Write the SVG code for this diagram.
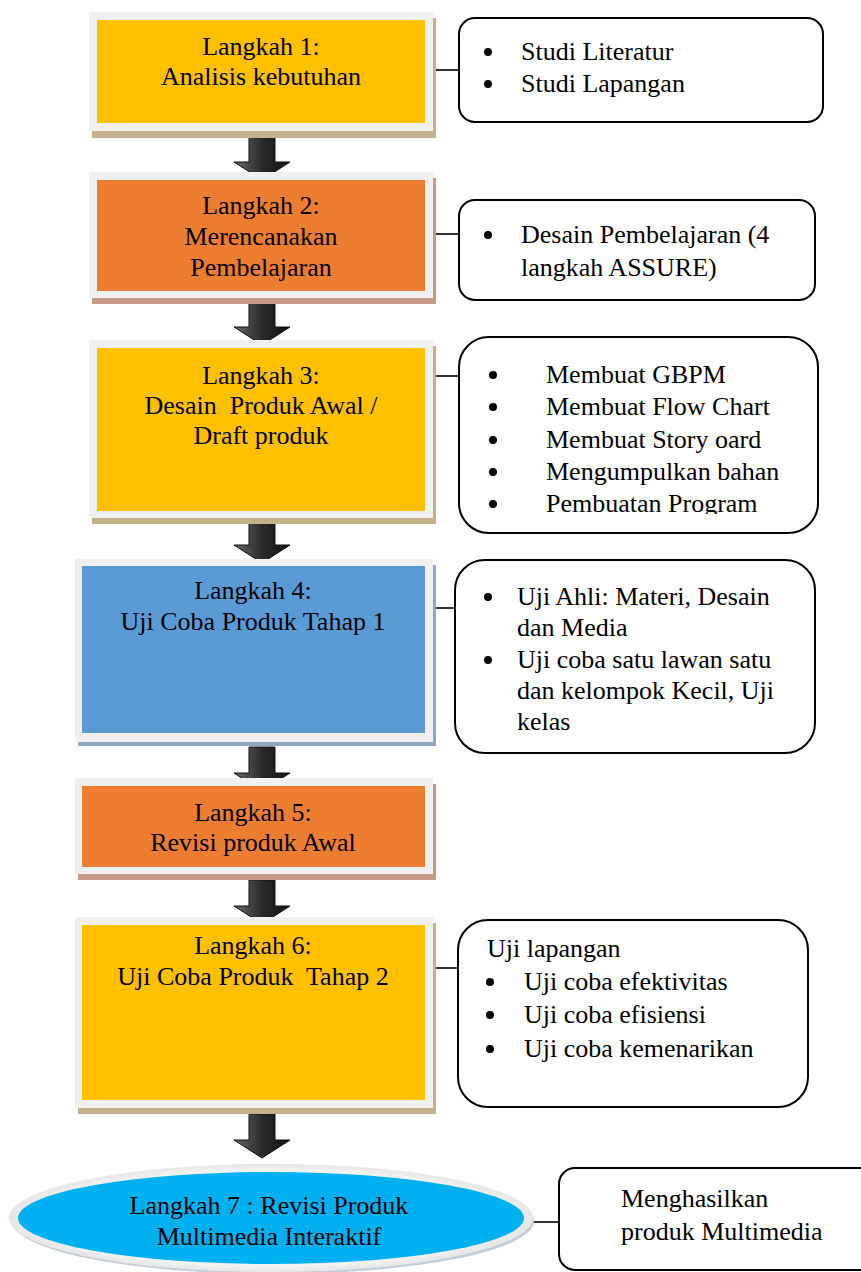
<svg xmlns="http://www.w3.org/2000/svg" width="861" height="1272" viewBox="0 0 861 1272" font-family="'Liberation Serif', Tinos, 'Times New Roman', 'DejaVu Serif', serif">
<style>
text{font-family:'Liberation Serif',Tinos,'Times New Roman','DejaVu Serif',serif;font-size:26px;fill:#000}
.c{text-anchor:middle}
.dot{fill:#000}
.frame{fill:#F0F0F0}
.note{fill:#fff;stroke:#000;stroke-width:2}
.link{stroke:#000;stroke-width:1.6;fill:none}
.gold{fill:#FFC000}
.orange{fill:#ED7D31}
.blue{fill:#5B9BD5}
.sh-tan{fill:#C4B08A}
.sh-brown{fill:#C49C86}
.sh-blue{fill:#8EA8C0}
.arrow{fill:url(#ag);stroke:#111;stroke-width:1}
</style>
<defs>
<linearGradient id="ag" x1="0" y1="0" x2="1" y2="0">
<stop offset="0" stop-color="#6a6a6a"/>
<stop offset="0.5" stop-color="#2a2a2a"/>
<stop offset="1" stop-color="#111"/>
</linearGradient>
<radialGradient id="eg" cx="0.5" cy="0.5" r="0.5">
<stop offset="0.9" stop-color="#F2F2F2"/>
<stop offset="1" stop-color="#E6E6E6"/>
</radialGradient>
<clipPath id="clip3"><rect x="455" y="330" width="370" height="184"/></clipPath>
</defs>

<g id="connectors">
<line class="link" x1="433" y1="70" x2="459" y2="70"/>
<line class="link" x1="433" y1="234" x2="459" y2="234"/>
<line class="link" x1="433" y1="376" x2="459" y2="376"/>
<line class="link" x1="429" y1="608" x2="455" y2="608"/>
<line class="link" x1="433" y1="968" x2="458" y2="968"/>
<line class="link" x1="530" y1="1222" x2="559" y2="1222"/>
<path class="arrow" d="M249,136 H275 V162 H290 L262,180 L234,162 H249 Z"/>
<path class="arrow" d="M249,301 H275 V327 H290 L262,345 L234,327 H249 Z"/>
<path class="arrow" d="M249,519 H275 V545 H290 L262,563 L234,545 H249 Z"/>
<path class="arrow" d="M249,747 H275 V773 H290 L262,791 L234,773 H249 Z"/>
<path class="arrow" d="M249,880 H275 V906 H290 L262,924 L234,906 H249 Z"/>
<path class="arrow" d="M249,1114 H275 V1140 H290 L262,1158 L234,1140 H249 Z"/>
</g>

<g id="step1">
<rect class="sh-tan" x="92" y="18" width="344" height="120"/>
<rect class="frame" x="89" y="12" width="344" height="119"/>
<rect class="gold" x="97" y="20" width="328" height="103"/>
<text class="c" x="261" y="55">Langkah 1:</text>
<text class="c" x="261" y="85">Analisis kebutuhan</text>
</g>
<g id="note1">
<rect class="note" x="459" y="18" width="364" height="104" rx="16"/>
<circle class="dot" cx="488" cy="52" r="4"/><text x="521" y="60">Studi Literatur</text>
<circle class="dot" cx="488" cy="84" r="4"/><text x="521" y="92">Studi Lapangan</text>
</g>

<g id="step2">
<rect class="sh-brown" x="92" y="178" width="344" height="126"/>
<rect class="frame" x="89" y="172" width="344" height="126"/>
<rect class="orange" x="97" y="180" width="328" height="111"/>
<text class="c" x="261" y="214">Langkah 2:</text>
<text class="c" x="261" y="245">Merencanakan</text>
<text class="c" x="261" y="276">Pembelajaran</text>
</g>
<g id="note2">
<rect class="note" x="459" y="200" width="356" height="100" rx="16"/>
<circle class="dot" cx="488" cy="235" r="4"/><text x="521" y="243">Desain Pembelajaran (4</text>
<text x="521" y="276">langkah ASSURE)</text>
</g>

<g id="step3">
<rect class="sh-tan" x="92" y="346" width="344" height="178"/>
<rect class="frame" x="89" y="340" width="344" height="178"/>
<rect class="gold" x="97" y="348" width="328" height="163"/>
<text class="c" x="261" y="384">Langkah 3:</text>
<text class="c" x="261" y="414" xml:space="preserve">Desain  Produk Awal /</text>
<text class="c" x="261" y="444">Draft produk</text>
</g>
<g id="note3">
<rect class="note" x="459" y="337" width="359" height="196" rx="30"/>
<g clip-path="url(#clip3)">
<circle class="dot" cx="493" cy="375" r="4"/><text x="546" y="383">Membuat GBPM</text>
<circle class="dot" cx="493" cy="407" r="4"/><text x="546" y="415">Membuat Flow Chart</text>
<circle class="dot" cx="493" cy="440" r="4"/><text x="546" y="448">Membuat Story oard</text>
<circle class="dot" cx="493" cy="472" r="4"/><text x="546" y="480">Mengumpulkan bahan</text>
<circle class="dot" cx="493" cy="504" r="4"/><text x="546" y="512">Pembuatan Program</text>
</g>
</g>

<g id="step4">
<rect class="sh-blue" x="78" y="565" width="358" height="181"/>
<rect class="frame" x="75" y="559" width="358" height="183"/>
<rect class="blue" x="82" y="566" width="343" height="167"/>
<text class="c" x="253" y="599">Langkah 4:</text>
<text class="c" x="253" y="630">Uji Coba Produk Tahap 1</text>
</g>
<g id="note4">
<rect class="note" x="455" y="560" width="360" height="193" rx="30"/>
<circle class="dot" cx="488" cy="597" r="4"/><text x="517" y="605">Uji Ahli: Materi, Desain</text>
<text x="517" y="636">dan Media</text>
<circle class="dot" cx="488" cy="660" r="4"/><text x="517" y="668">Uji coba satu lawan satu</text>
<text x="517" y="699">dan kelompok Kecil, Uji</text>
<text x="517" y="730">kelas</text>
</g>

<g id="step5">
<rect class="sh-brown" x="78" y="784" width="358" height="96"/>
<rect class="frame" x="75" y="778" width="358" height="96"/>
<rect class="orange" x="82" y="786" width="343" height="81"/>
<text class="c" x="253" y="821">Langkah 5:</text>
<text class="c" x="253" y="851">Revisi produk Awal</text>
</g>

<g id="step6">
<rect class="sh-tan" x="78" y="923" width="358" height="191"/>
<rect class="frame" x="75" y="917" width="358" height="191"/>
<rect class="gold" x="82" y="925" width="343" height="175"/>
<text class="c" x="253" y="954">Langkah 6:</text>
<text class="c" x="253" y="985" xml:space="preserve">Uji Coba Produk  Tahap 2</text>
</g>
<g id="note6">
<rect class="note" x="458" y="920" width="350" height="187" rx="30"/>
<text x="487" y="957">Uji lapangan</text>
<circle class="dot" cx="490" cy="982" r="4"/><text x="524" y="990">Uji coba efektivitas</text>
<circle class="dot" cx="490" cy="1015" r="4"/><text x="524" y="1023">Uji coba efisiensi</text>
<circle class="dot" cx="490" cy="1049" r="4"/><text x="524" y="1057">Uji coba kemenarikan</text>
</g>

<g id="step7">
<ellipse cx="273" cy="1221" rx="261" ry="53" fill="#C2CDD7"/>
<ellipse cx="271" cy="1218" rx="262" ry="54" fill="url(#eg)"/>
<ellipse cx="271" cy="1218" rx="253" ry="46" fill="#00B0F0"/>
<text class="c" x="269" y="1214">Langkah 7 : Revisi Produk</text>
<text class="c" x="269" y="1245">Multimedia Interaktif</text>
</g>
<g id="note7">
<rect class="note" x="559" y="1168" width="330" height="102" rx="16"/>
<text x="621" y="1207">Menghasilkan</text>
<text x="621" y="1240">produk Multimedia</text>
</g>
</svg>
